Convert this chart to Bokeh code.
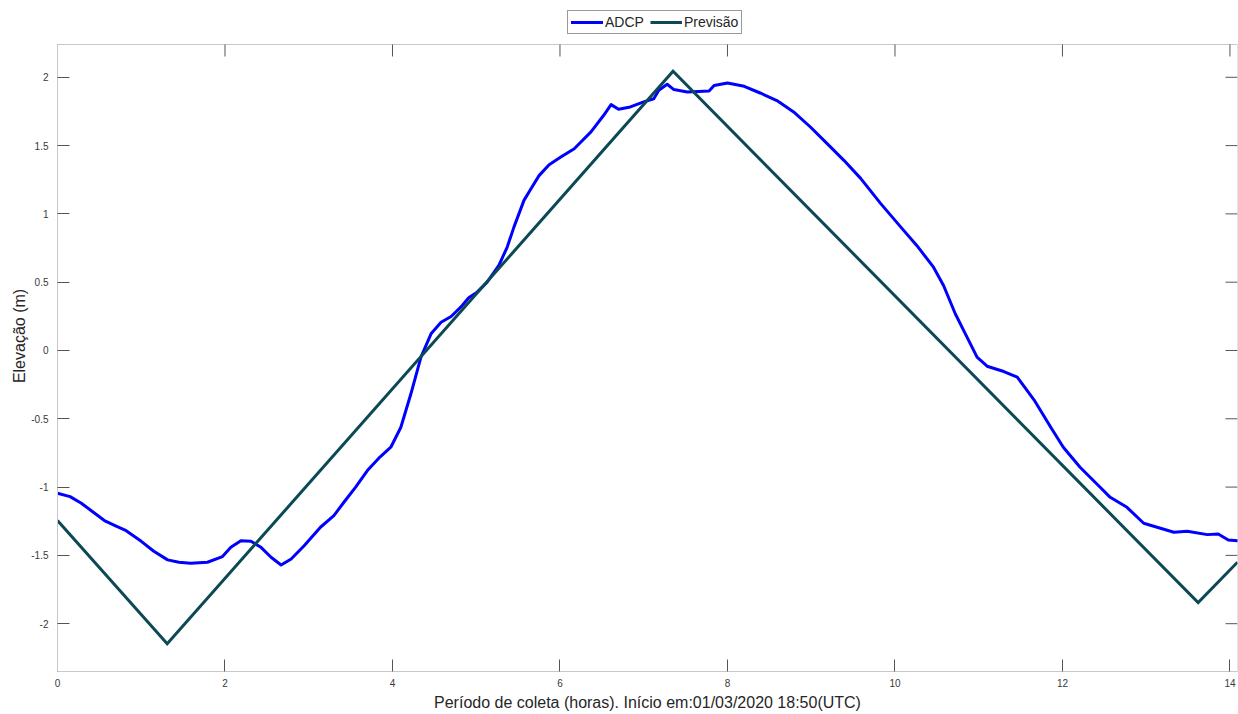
import math
from bokeh.plotting import figure
from bokeh.models import Range1d, FixedTicker, Legend, LegendItem
from bokeh.embed import file_html
from bokeh.resources import INLINE

# Measured water level (ADCP), hours since start -> elevation in metres
adcp_hours = [0.00, 0.15, 0.28, 0.42, 0.56, 0.70, 0.82, 1.00, 1.15, 1.315, 1.45, 1.59,
              1.79, 1.97, 2.07, 2.19, 2.31, 2.43, 2.55, 2.67, 2.79, 2.945, 3.14, 3.30,
              3.42, 3.56, 3.70, 3.85, 3.98, 4.10, 4.22, 4.34, 4.46, 4.58, 4.70, 4.815,
              4.91, 5.01, 5.13, 5.27, 5.37, 5.45, 5.57, 5.65, 5.75, 5.87, 6.01, 6.17,
              6.37, 6.52, 6.61, 6.70, 6.84, 7.00, 7.12, 7.18, 7.28, 7.36, 7.52, 7.78,
              7.84, 8.00, 8.20, 8.39, 8.59, 8.79, 8.99, 9.19, 9.39, 9.59, 9.83, 10.07,
              10.26, 10.46, 10.58, 10.72, 10.86, 10.98, 11.10, 11.30, 11.46, 11.66,
              11.86, 12.01, 12.21, 12.45, 12.57, 12.77, 12.97, 13.13, 13.33, 13.49,
              13.73, 13.86, 13.98, 14.09]
adcp_elev = [-1.045, -1.07, -1.116, -1.18, -1.245, -1.285, -1.319, -1.397, -1.47, -1.533,
             -1.55, -1.558, -1.55, -1.509, -1.441, -1.392, -1.397, -1.441, -1.514, -1.57,
             -1.526, -1.429, -1.294, -1.209, -1.111, -1.00, -0.879, -0.78, -0.708, -0.562,
             -0.317, -0.049, 0.122, 0.207, 0.249, 0.317, 0.386, 0.427, 0.50, 0.623, 0.757,
             0.903, 1.099, 1.18, 1.28, 1.36, 1.416, 1.477, 1.60, 1.72, 1.80, 1.766, 1.783,
             1.82, 1.843, 1.905, 1.949, 1.91, 1.893, 1.90, 1.94, 1.958, 1.934, 1.885, 1.83,
             1.746, 1.636, 1.514, 1.392, 1.26, 1.075, 0.903, 0.769, 0.61, 0.476, 0.269,
             0.098, -0.049, -0.115, -0.154, -0.195, -0.361, -0.562, -0.708, -0.855, -1.001,
             -1.075, -1.148, -1.265, -1.294, -1.331, -1.324, -1.348, -1.343, -1.387, -1.392]

# Tide prediction: straight segments between high and low water
prev_hours = [0.00, 1.31, 7.35, 13.62, 14.09]
prev_elev = [-1.245, -2.147, 2.044, -1.846, -1.55]

x_ticks = [0, 2, 4, 6, 8, 10, 12, 14]
x_tick_labels = ["0", "2", "4", "6", "8", "10", "12", "14"]
y_ticks = [-2, -1.5, -1, -0.5, 0, 0.5, 1, 1.5, 2]
y_tick_labels = ["-2", "-1.5", "-1", "-0.5", "0", "0.5", "1", "1.5", "2"]

# Axes box limits
X_MIN, X_MAX = 0, 14.09
Y_MIN, Y_MAX = -2.35, 2.24

# Page geometry: the frame runs to the top of the page so the legend can sit
# above the axes box; the box itself starts BOX_TOP pixels below the top.
W, H = 1238, 714
LEFT, RIGHT, BOTTOM, BOX_TOP = 57, 1, 43, 44
box_h = H - BOTTOM - BOX_TOP
y_top = Y_MAX + (Y_MAX - Y_MIN) * BOX_TOP / box_h

FONT = "Liberation Sans"
TEXT = "#262626"
BOX = "#c8c8c8"
TICK = "#555555"
TICK_LEN = 12

p = figure(width=W, height=H, output_backend="svg", toolbar_location=None,
           x_range=Range1d(X_MIN, X_MAX), y_range=Range1d(Y_MIN, y_top),
           min_border_left=LEFT, min_border_right=RIGHT, min_border_top=0,
           min_border_bottom=BOTTOM, outline_line_color=None)
p.grid.visible = False
p.background_fill_color = "white"
p.border_fill_color = "white"

# Top and right edges of the axes box
p.segment(x0=[X_MIN, X_MAX], y0=[Y_MAX, Y_MIN], x1=[X_MAX, X_MAX], y1=[Y_MAX, Y_MAX],
          line_color=BOX, line_width=1)

r_adcp = p.line(adcp_hours, adcp_elev, line_color="#0000ff", line_width=3,
                line_join="round", line_cap="round")
r_prev = p.line(prev_hours, prev_elev, line_color="#0b4a55", line_width=3,
                line_join="miter")

# Inward ticks along the top and right edges
p.ray(x=x_ticks, y=[Y_MAX] * len(x_ticks), length=TICK_LEN, length_units="screen",
      angle=-math.pi / 2, line_color=TICK, line_width=1)
p.ray(x=[X_MAX] * len(y_ticks), y=y_ticks, length=TICK_LEN, length_units="screen",
      angle=math.pi, line_color=TICK, line_width=1)

for ax, ticks, labels in ((p.xaxis[0], x_ticks, x_tick_labels),
                          (p.yaxis[0], y_ticks, y_tick_labels)):
    ax.ticker = FixedTicker(ticks=ticks)
    ax.major_label_overrides = {t: l for t, l in zip(ticks, labels)}
    ax.axis_line_color = BOX
    ax.axis_line_width = 1
    ax.major_tick_in = TICK_LEN
    ax.major_tick_out = 0
    ax.major_tick_line_color = TICK
    ax.major_tick_line_width = 1
    ax.minor_tick_line_color = None
    ax.major_label_text_font = FONT
    ax.major_label_text_color = "#3a3a3a"
    ax.major_label_text_font_size = "10px"
    ax.axis_label_text_font = FONT
    ax.axis_label_text_font_size = "16px"
    ax.axis_label_text_font_style = "normal"
    ax.axis_label_text_color = TEXT

p.yaxis.bounds = (Y_MIN, Y_MAX)
p.xaxis.major_label_standoff = 7
p.yaxis.major_label_standoff = 9
p.xaxis.axis_label = "Período de coleta (horas). Início em:01/03/2020 18:50(UTC)"
p.yaxis.axis_label = "Elevação (m)"
p.xaxis.axis_label_standoff = 4
p.yaxis.axis_label_standoff = 0

legend = Legend(items=[LegendItem(label="ADCP", renderers=[r_adcp]),
                       LegendItem(label="Previsão", renderers=[r_prev])],
                orientation="horizontal", location=(510, 637),
                label_text_font=FONT, label_text_font_size="14px",
                label_text_color=TEXT, label_standoff=2,
                glyph_width=32, glyph_height=16, label_height=16,
                spacing=6, padding=3, margin=0,
                border_line_color="#333333", border_line_width=1,
                background_fill_color="white", background_fill_alpha=1.0)
p.add_layout(legend, "center")

open("out.html", "w").write(file_html(p, INLINE))
